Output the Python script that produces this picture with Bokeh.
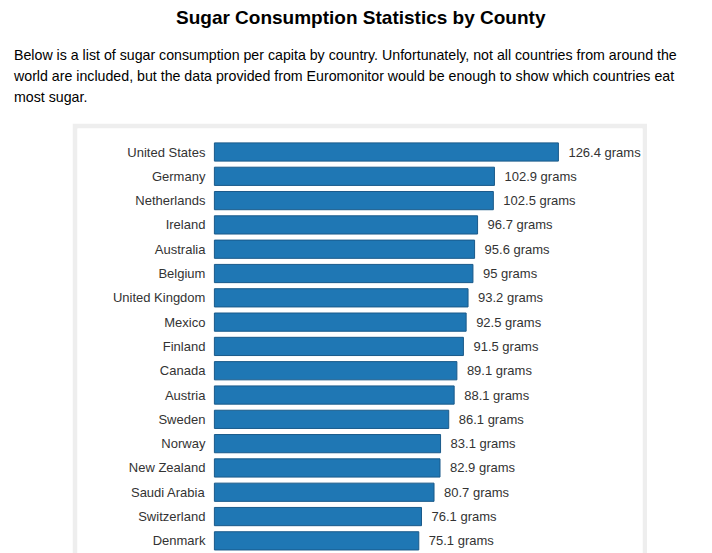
from bokeh.plotting import figure
from bokeh.models import Div, Spacer, Range1d, ColumnDataSource
from bokeh.layouts import column, row
from bokeh.core.properties import value
from bokeh.embed import file_html
from bokeh.resources import INLINE

title_text = "Sugar Consumption Statistics by County"
intro_lines = [
    "Below is a list of sugar consumption per capita by country. Unfortunately, not all countries from around the",
    "world are included, but the data provided from Euromonitor would be enough to show which countries eat",
    "most sugar.",
]

countries = ["United States", "Germany", "Netherlands", "Ireland", "Australia", "Belgium",
             "United Kingdom", "Mexico", "Finland", "Canada", "Austria", "Sweden", "Norway",
             "New Zealand", "Saudi Arabia", "Switzerland", "Denmark"]
grams = [126.4, 102.9, 102.5, 96.7, 95.6, 95, 93.2, 92.5, 91.5, 89.1, 88.1, 86.1, 83.1,
         82.9, 80.7, 76.1, 75.1]

n = len(countries)
ypos = [n - 1 - i for i in range(n)]
value_labels = [f"{g:g} grams" for g in grams]

src = ColumnDataSource(dict(country=countries, grams=grams, y=ypos,
                            zero=[0] * n, vlabel=value_labels))

FONT = "'Liberation Sans', Arial, sans-serif"

title_div = Div(
    text=f'<div style="font-family:{FONT};font-weight:bold;font-size:19px;line-height:36px;'
         f'color:#000;text-align:left;padding-left:176px;white-space:nowrap;">{title_text}</div>',
    width=712, height=45, margin=0)

para_div = Div(
    text=f'<div style="font-family:{FONT};font-size:14.2px;line-height:21px;color:#000;'
         f'padding-left:14px;white-space:nowrap;">' + "<br>".join(intro_lines) + "</div>",
    width=712, height=78, margin=0)

p = figure(width=575, height=430, output_backend="svg", toolbar_location=None,
           x_range=Range1d(-50.3, 157.3), y_range=Range1d(-0.52, 16.967),
           min_border_left=5, min_border_right=5, min_border_top=5, min_border_bottom=0,
           margin=0)
p.border_fill_color = "#eeeeee"
p.background_fill_color = "white"
p.outline_line_color = None
p.axis.visible = False
p.grid.visible = False

p.hbar(y="y", left="zero", right="grams", height=0.75, source=src,
       fill_color="#1f77b4", line_color="#1a5a8a", line_width=1)

p.text(x="zero", y="y", text="country", source=src, x_offset=-9,
       text_align="right", text_baseline="middle",
       text_font=value("Liberation Sans"), text_font_size="13px", text_color="#333333")

p.text(x="grams", y="y", text="vlabel", source=src, x_offset=10,
       text_align="left", text_baseline="middle",
       text_font=value("Liberation Sans"), text_font_size="13px", text_color="#333333")

layout = column(title_div, para_div, row(Spacer(width=72, height=430, margin=0), p, margin=0),
                margin=0)

open("out.html", "w").write(file_html(layout, INLINE))
